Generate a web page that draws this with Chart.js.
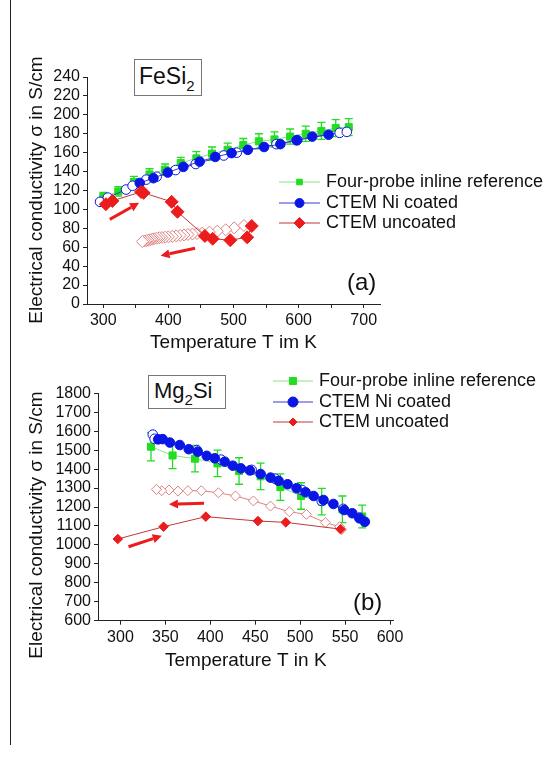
<!DOCTYPE html>
<html>
<head>
<meta charset="utf-8">
<script src="https://cdn.jsdelivr.net/npm/chart.js@4.4.1/dist/chart.umd.min.js"></script>
<style>
  html, body { margin: 0; padding: 0; background: #fff; }
  body { width: 549px; height: 760px; position: relative; overflow: hidden;
         font-family: "Liberation Sans", Arial, sans-serif; color: #111; }
  canvas { position: absolute; left: 0; }
  #chartA { top: 0; }
  #chartB { top: 370px; }
  .rule { position: absolute; left: 10px; top: 0; height: 745px; border-left: 1.5px solid #222; }
  .tag { position: absolute; box-sizing: border-box; border: 1px solid #777; background: #fff;
         white-space: nowrap; }
  .tag sub { font-size: 15px; vertical-align: -7px; }
  .panel { position: absolute; font-size: 24px; line-height: 1; }
</style>
</head>
<body>
<div class="rule"></div>
<canvas id="chartA" width="549" height="370"></canvas>
<canvas id="chartB" width="549" height="390"></canvas>
<div class="tag" style="left:134px;top:59px;width:68px;height:37px;font-size:23px;line-height:26px;padding:3px 0 0 4px;">FeSi<sub>2</sub></div>
<div class="tag" style="left:148px;top:375px;width:78px;height:34px;font-size:22px;line-height:24px;padding:3px 0 0 5px;">Mg<sub>2</sub>Si</div>
<div class="panel" style="left:347px;top:270px;">(a)</div>
<div class="panel" style="left:353px;top:590px;">(b)</div>
<script>
const FONT = '"Liberation Sans", Arial, sans-serif';

// ---- (a) FeSi2 ----
const aFourT   = [300, 323, 347, 371, 395, 419, 443, 467, 491, 515, 539, 563, 587, 611, 635, 657, 677];
const aFourS   = [113, 119, 129, 137, 142, 149, 154, 159, 163, 168, 172, 174, 177, 180, 183, 186, 187];
const aFourErr = [5, 5, 6, 6, 6, 6, 7, 7, 7, 7, 8, 8, 8, 8, 9, 9, 9];

const aNiT     = [356, 377, 399, 423, 448, 472, 497, 522, 547, 572, 597, 621, 646];
const aNiS     = [128, 133, 139, 145, 150.5, 155.5, 159.5, 163, 166, 169, 173, 177, 179];
const aNiCoolT = [295, 307, 335, 345, 366, 382, 411, 442, 485, 505, 566, 598, 663, 674];
const aNiCoolS = [108, 112.5, 121, 125, 131.5, 134.6, 141.6, 148, 157, 160, 169, 173.4, 181, 182];

const aUncT     = [304, 314, 358, 362, 405, 414, 456, 468, 495, 521, 528];
const aUncS     = [105.5, 109, 118.5, 117.5, 108, 97.5, 72, 69, 67.5, 70.5, 82.5];
const aUncCoolT = [516, 501, 488, 475, 463, 452, 444, 437, 430, 424, 418, 412, 406, 400, 395, 390, 386, 382, 378, 375, 372, 369, 366, 363, 360];
const aUncCoolS = [83, 80.5, 78.5, 77, 76, 75, 74.5, 74, 73.5, 73, 72.5, 72, 71.5, 71, 70.7, 70.3, 70, 69.5, 69, 68.5, 68, 67.5, 67, 66.5, 66];

const aArrows  = [[310, 89.5, 355, 107], [441, 59, 388, 51]];
const aXTicks  = [300, 350, 400, 450, 500, 550, 600, 650, 700];
const aYTicks  = [0, 20, 40, 60, 80, 100, 120, 140, 160, 180, 200, 220, 240];

// ---- (b) Mg2Si ----
const bFourT   = [334, 358, 383, 408, 432, 456, 478, 501, 524, 547, 569];
const bFourS   = [1518, 1472, 1455, 1430, 1390, 1362, 1305, 1258, 1228, 1188, 1150];
const bFourErr = [75, 70, 70, 70, 70, 70, 70, 70, 70, 70, 60];

const bNiT     = [342, 347, 355, 366, 376, 386, 396, 405, 416, 425, 434, 444, 456, 467, 476, 486, 496, 506, 515, 526, 537, 549, 558, 566, 572];
const bNiS     = [1557, 1558, 1540, 1527, 1505, 1492, 1470, 1457, 1439, 1418, 1404, 1393, 1374, 1355, 1338, 1320, 1299, 1278, 1258, 1237, 1216, 1184, 1167, 1140, 1122];
const bNiCoolT = [336, 338, 385, 412, 446, 472, 502, 524, 548, 566];
const bNiCoolS = [1582, 1560, 1500, 1450, 1396, 1350, 1290, 1232, 1190, 1144];

const bUncT     = [297, 348, 395, 453, 484, 545];
const bUncS     = [1031, 1096, 1149, 1126, 1119, 1083];
const bUncCoolT = [546, 544, 528, 507, 488, 467, 448, 428, 409, 390, 375, 364, 354, 346, 340];
const bUncCoolS = [1080, 1096, 1118, 1161, 1175, 1205, 1232, 1258, 1275, 1286, 1286, 1284, 1290, 1286, 1293];

const bArrows  = [[393, 1220, 354, 1214], [309, 990, 346, 1048]];
const bXTicks  = [300, 350, 400, 450, 500, 550, 600];
const bYTicks  = [600, 700, 800, 900, 1000, 1100, 1200, 1300, 1400, 1500, 1600, 1700, 1800];

const LABELS = ['Four-probe inline reference', 'CTEM Ni coated', 'CTEM uncoated'];
const Y_TITLE = 'Electrical conductivity \u03c3 in S/cm';

const GREEN = '#22dd22', GREEN_LINE = '#86e486';
const BLUE = '#0a16e4', BLUE_LINE = '#3a3ad0';
const RED = '#ec1c1c', RED_LINE = '#c03838', PINK = '#e08080';

const pts = (xs, ys) => xs.map((x, i) => ({ x: x, y: ys[i] }));

const extras = {
  id: 'extras',
  beforeDatasetsDraw(chart, args, o) {
    const { ctx, scales: { x, y } } = chart;
    ctx.save();
    ctx.strokeStyle = GREEN;
    ctx.lineWidth = 1.3;
    o.barT.forEach((t, i) => {
      const px = x.getPixelForValue(t);
      const top = y.getPixelForValue(o.barS[i] + o.barErr[i]);
      const bot = y.getPixelForValue(o.barS[i] - o.barErr[i]);
      ctx.beginPath();
      ctx.moveTo(px, top); ctx.lineTo(px, bot);
      ctx.moveTo(px - 4, top); ctx.lineTo(px + 4, top);
      ctx.moveTo(px - 4, bot); ctx.lineTo(px + 4, bot);
      ctx.stroke();
    });
    ctx.restore();
  },
  afterDatasetsDraw(chart, args, o) {
    const { ctx, scales: { x, y } } = chart;
    ctx.save();
    // arrows
    ctx.strokeStyle = RED;
    ctx.fillStyle = RED;
    ctx.lineWidth = 3;
    o.arrows.forEach(a => {
      const x1 = x.getPixelForValue(a[0]), y1 = y.getPixelForValue(a[1]);
      const x2 = x.getPixelForValue(a[2]), y2 = y.getPixelForValue(a[3]);
      const ang = Math.atan2(y2 - y1, x2 - x1);
      const hx = x2 - 9 * Math.cos(ang), hy = y2 - 9 * Math.sin(ang);
      ctx.beginPath(); ctx.moveTo(x1, y1); ctx.lineTo(hx, hy); ctx.stroke();
      ctx.beginPath();
      ctx.moveTo(x2, y2);
      ctx.lineTo(hx + 4.5 * Math.sin(ang), hy - 4.5 * Math.cos(ang));
      ctx.lineTo(hx - 4.5 * Math.sin(ang), hy + 4.5 * Math.cos(ang));
      ctx.closePath(); ctx.fill();
    });
    // legend
    const lg = o.legend;
    ctx.font = '18px ' + FONT;
    ctx.textBaseline = 'middle';
    ctx.textAlign = 'left';
    lg.items.forEach((di, k) => {
      const ds = chart.data.datasets[di];
      const yy = lg.ys[k];
      ctx.strokeStyle = ds.borderColor;
      ctx.lineWidth = 1;
      ctx.beginPath(); ctx.moveTo(lg.x1, yy); ctx.lineTo(lg.x2, yy); ctx.stroke();
      ctx.fillStyle = ds.pointBackgroundColor;
      ctx.strokeStyle = ds.pointBorderColor;
      Chart.helpers.drawPoint(ctx, { pointStyle: ds.pointStyle, radius: lg.r[k], borderWidth: 1, rotation: 0 },
        (lg.x1 + lg.x2) / 2, yy);
      ctx.fillStyle = '#111';
      ctx.fillText(LABELS[k], lg.tx, yy);
    });
    // y title
    ctx.translate(o.yTitle.x, o.yTitle.y);
    ctx.rotate(-Math.PI / 2);
    ctx.textAlign = 'center';
    ctx.font = '19px ' + FONT;
    ctx.fillStyle = '#111';
    ctx.fillText(Y_TITLE, 0, 0);
    ctx.restore();
  }
};

function axis(min, max, ticks, show, extra) {
  return Object.assign({
    type: 'linear', min: min, max: max,
    afterBuildTicks: s => { s.ticks = ticks.map(v => ({ value: v })); },
    grid: { drawOnChartArea: false, drawTicks: true, tickLength: 4, color: '#222' },
    border: { color: '#222', width: 1 },
    ticks: { color: '#111', font: { size: 16, family: FONT }, padding: 3, autoSkip: false,
             maxRotation: 0, callback: v => show(v) ? String(v) : '' }
  }, extra);
}

function sets(four, ni, niCool, unc, uncCool, r) {
  return [
    { data: four, order: 4, borderColor: GREEN_LINE, borderWidth: 1, pointStyle: 'rect',
      pointRadius: r.four, pointBackgroundColor: GREEN, pointBorderColor: GREEN, pointBorderWidth: 1 },
    { data: ni, order: 2, borderColor: BLUE_LINE, borderWidth: 1, pointStyle: 'circle',
      pointRadius: r.ni, pointBackgroundColor: BLUE, pointBorderColor: BLUE, pointBorderWidth: 1 },
    { data: niCool, order: 3, borderColor: BLUE_LINE, borderWidth: 1, pointStyle: 'circle',
      pointRadius: r.ni, pointBackgroundColor: '#fff', pointBorderColor: BLUE, pointBorderWidth: 1 },
    { data: unc, order: 0, borderColor: RED_LINE, borderWidth: 1, pointStyle: 'rectRot',
      pointRadius: r.unc, pointBackgroundColor: RED, pointBorderColor: RED, pointBorderWidth: 1 },
    { data: uncCool, order: 1, borderColor: PINK, borderWidth: 1, pointStyle: 'rectRot',
      pointRadius: r.uncCool, pointBackgroundColor: '#fff', pointBorderColor: PINK, pointBorderWidth: 1 }
  ];
}

function makeChart(id, cfg) {
  return new Chart(document.getElementById(id), {
    type: 'line',
    data: { datasets: cfg.datasets },
    options: {
      responsive: false, animation: false, devicePixelRatio: 1,
      elements: { line: { tension: 0 } },
      layout: { padding: cfg.padding },
      plugins: { legend: { display: false }, tooltip: { enabled: false }, extras: cfg.extras },
      scales: {
        x: axis(cfg.xMin, cfg.xMax, cfg.xTicks, cfg.xShow, {
          afterFit: s => { s.height = 56; },
          title: { display: true, text: cfg.xTitle, color: '#111', font: { size: 19, family: FONT },
                   padding: { top: 0, bottom: cfg.xTitlePad } }
        }),
        y: axis(cfg.yMin, cfg.yMax, cfg.yTicks, () => true, {
          afterFit: s => { s.width = cfg.yWidth; }
        })
      }
    },
    plugins: [extras]
  });
}

makeChart('chartA', {
  datasets: sets(pts(aFourT, aFourS), pts(aNiT, aNiS), pts(aNiCoolT, aNiCoolS),
                 pts(aUncT, aUncS), pts(aUncCoolT, aUncCoolS),
                 { four: 5, ni: 4.8, unc: 6.5, uncCool: 6 }),
  padding: { left: 0, right: 169, top: 77, bottom: 10 },
  xMin: 275, xMax: 725, xTicks: aXTicks, xShow: v => v % 100 === 0,
  yMin: 0, yMax: 240, yTicks: aYTicks, yWidth: 87,
  xTitle: 'Temperature T im K', xTitlePad: 5.6,
  extras: {
    barT: aFourT, barS: aFourS, barErr: aFourErr, arrows: aArrows,
    legend: { items: [0, 1, 3], x1: 279, x2: 320, tx: 326, ys: [182, 203, 223], r: [4, 4.5, 5.5] },
    yTitle: { x: 37, y: 190 }
  }
});

makeChart('chartB', {
  datasets: sets(pts(bFourT, bFourS), pts(bNiT, bNiS), pts(bNiCoolT, bNiCoolS),
                 pts(bUncT, bUncS), pts(bUncCoolT, bUncCoolS),
                 { four: 5, ni: 4.8, unc: 4.8, uncCool: 5 }),
  padding: { left: 0, right: 155.4, top: 23.3, bottom: 83.3 },
  xMin: 275, xMax: 604, xTicks: bXTicks, xShow: () => true,
  yMin: 600, yMax: 1800, yTicks: bYTicks, yWidth: 98,
  xTitle: 'Temperature T in K', xTitlePad: 4.3,
  extras: {
    barT: bFourT, barS: bFourS, barErr: bFourErr, arrows: bArrows,
    legend: { items: [0, 1, 3], x1: 273, x2: 313, tx: 319, ys: [11, 32, 52], r: [5, 5, 4] },
    yTitle: { x: 37, y: 155 }
  }
});
</script>
</body>
</html>
